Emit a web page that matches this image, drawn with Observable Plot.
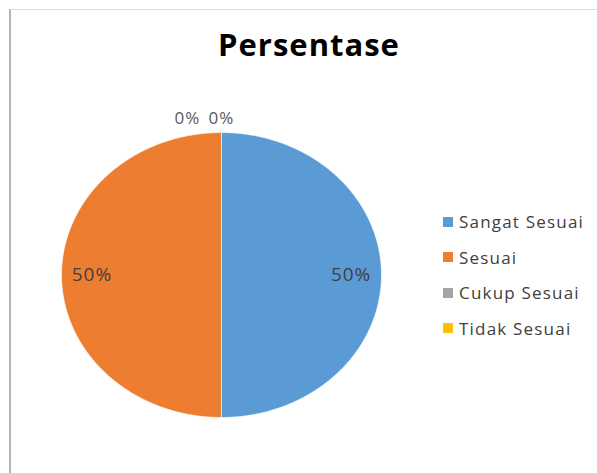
<!DOCTYPE html>
<html>
<head>
<meta charset="utf-8">
<script src="https://cdn.jsdelivr.net/npm/d3@7"></script>
<script src="https://cdn.jsdelivr.net/npm/@observablehq/plot@0.6"></script>
<style>
  html, body { margin: 0; padding: 0; background: #fff; }
  #wrap { position: relative; width: 597px; height: 473px; overflow: hidden; font-family: "Open Sans", sans-serif; }
  #frame { position: absolute; left: 9px; top: 9px; right: -2px; bottom: -2px; border-left: 2px solid #b4b4b4; border-top: 1px solid #dcdcdc; }
  #title { position: absolute; left: 0; width: 618px; top: 29px; text-align: center; font: bold 31px/31px "Open Sans", sans-serif; letter-spacing: 1px; color: #000; }
  #chart { position: absolute; left: 0; top: 0; }
  #chart svg text { letter-spacing: 1px; }
  #legend { position: absolute; left: 443px; top: 204px; }
  .leg-swatches { font-family: "Open Sans", sans-serif !important; font-size: 17px !important; color: #404040; margin: 0 !important; letter-spacing: 1.2px; }
  .leg-swatch { height: 35.5px; padding: 0 !important; }
  .leg-swatch > svg { margin-right: 6px !important; }
</style>
</head>
<body>
<div id="wrap">
  <div id="frame"></div>
  <div id="title">Persentase</div>
  <div id="chart"></div>
  <div id="legend"></div>
</div>
<script>
const categories = ["Sangat Sesuai", "Sesuai", "Cukup Sesuai", "Tidak Sesuai"];
const percentages = [50, 50, 0, 0];
const colors = ["#5B9BD5", "#ED7D31", "#A5A5A5", "#FFC000"];

const data = categories.map((c, i) => ({category: c, value: percentages[i]}));
const arcs = d3.pie().sort(null).value(d => d.value).startAngle(0).endAngle(2 * Math.PI)(data);

// wedge outlines in unit (data) coordinates
const wedges = [];
arcs.forEach(a => {
  if (a.data.value <= 0) return;
  const N = 120;
  wedges.push({category: a.data.category, x: 0, y: 0});
  for (let i = 0; i <= N; i++) {
    const t = a.startAngle + (a.endAngle - a.startAngle) * i / N;
    wedges.push({category: a.data.category, x: Math.sin(t), y: Math.cos(t)});
  }
  wedges.push({category: a.data.category, x: 0, y: 0});
});

// label placement: inside for non-zero, outside (staggered) for zero slices
const zeroArcs = arcs.filter(a => a.data.value === 0);
const labels = arcs.map(a => {
  const mid = (a.startAngle + a.endAngle) / 2;
  const zero = a.data.value === 0;
  const r = zero ? 1.1 : 0.81;
  let x = r * Math.sin(mid);
  if (zero) {
    const k = zeroArcs.indexOf(a);
    x -= (zeroArcs.length - 1 - k) * 0.2125;
  }
  return {category: a.data.category, zero, x, y: r * Math.cos(mid), text: a.data.value + "%"};
});

const chart = Plot.plot({
  width: 597,
  height: 473,
  marginLeft: 61,
  marginRight: 216,
  marginTop: 132,
  marginBottom: 56,
  x: {domain: [-1, 1], axis: null},
  y: {domain: [-1, 1], axis: null},
  color: {domain: categories, range: colors},
  style: {background: "transparent", fontFamily: "Open Sans, sans-serif"},
  marks: [
    Plot.line(wedges, {x: "x", y: "y", z: "category", fill: "category", stroke: "#ffffff", strokeWidth: 0.8, strokeOpacity: 0.8}),
    Plot.text(labels.filter(d => !d.zero), {x: "x", y: "y", text: "text", fontSize: 19, fill: "#404040"}),
    Plot.text(labels.filter(d => d.zero), {x: "x", y: "y", text: "text", fontSize: 17, fill: "#595959"})
  ]
});
document.getElementById("chart").appendChild(chart);

const legend = chart.legend("color", {columns: 1, swatchSize: 10, className: "leg"});
document.getElementById("legend").appendChild(legend);
</script>
</body>
</html>
